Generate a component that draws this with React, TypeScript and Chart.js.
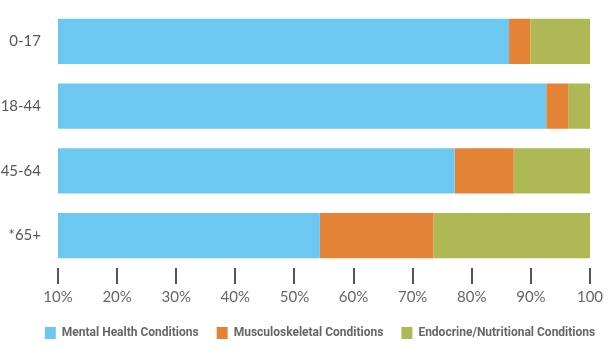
import React, { useEffect, useRef } from "react";
import { Chart, registerables } from "chart.js";

Chart.register(...registerables);

const categories = ["0-17", "18-44", "45-64", "*65+"];
const seriesNames = ["Mental Health Conditions", "Musculoskeletal Conditions", "Endocrine/Nutritional Conditions"];
const mental = [86.3, 92.6, 77.1, 54.3];
const musculoskeletal = [3.6, 3.7, 10.0, 19.2];
const endocrine = [10.1, 3.7, 12.9, 26.5];
const tickValues = [10, 20, 30, 40, 50, 60, 70, 80, 90, 100];
const tickLabels = ["10%", "20%", "30%", "40%", "50%", "60%", "70%", "80%", "90%", "100"];
const colors = ["#6DC8F1", "#E48236", "#AEB956"];

const shiftLegend = {
  id: "shiftLegend",
  afterLayout(chart: any) {
    if (chart.legend) {
      chart.legend.right += 50;
    }
  },
};

export default function App() {
  const ref = useRef<HTMLCanvasElement | null>(null);
  useEffect(() => {
    if (!ref.current) return;
    const font = "Lato, 'Open Sans', sans-serif";
    const chart = new Chart(ref.current, {
      type: "bar",
      plugins: [shiftLegend],
      data: {
        labels: categories,
        datasets: [mental, musculoskeletal, endocrine].map((d, i) => ({
          label: seriesNames[i],
          data: d,
          backgroundColor: colors[i],
          borderWidth: 0,
          barPercentage: 0.7,
          categoryPercentage: 1,
        })),
      },
      options: {
        indexAxis: "y",
        responsive: true,
        maintainAspectRatio: false,
        animation: false,
        layout: { padding: { left: 0, right: 25, top: 9, bottom: 1 } },
        plugins: {
          tooltip: { enabled: false },
          legend: {
            position: "bottom",
            labels: {
              boxWidth: 11,
              boxHeight: 12,
              padding: 18,
              color: "#666",
              font: { family: "Roboto, 'Liberation Sans', sans-serif", size: 12, weight: "bold" },
            },
          },
        },
        scales: {
          x: {
            type: "linear",
            stacked: true,
            min: 10,
            max: 100,
            afterBuildTicks: (scale: any) => {
              scale.ticks = tickValues.map((v) => ({ value: v }));
            },
            afterFit: (scale: any) => {
              scale.height -= 1;
              scale.paddingLeft = 0;
              scale.paddingRight = 0;
            },
            ticks: {
              color: "#666",
              font: { family: font, size: 15 },
              padding: 4,
              maxRotation: 0,
              callback: (v: any) => tickLabels[tickValues.indexOf(Number(v))],
            },
            grid: {
              drawOnChartArea: false,
              drawTicks: true,
              tickLength: 16,
              color: "#555",
              lineWidth: 2,
            },
            border: { display: false },
          },
          y: {
            stacked: true,
            afterFit: (scale: any) => {
              scale.width = 58;
              scale.paddingTop = 0;
              scale.paddingBottom = 0;
            },
            ticks: {
              color: "#555",
              font: { family: font, size: 15 },
              padding: 17,
            },
            grid: { display: false, drawTicks: false },
            border: { display: false },
          },
        },
      },
    });
    return () => chart.destroy();
  }, []);
  return (
    <div style={{ position: "fixed", left: 0, top: 0, width: 615, height: 350 }}>
      <canvas ref={ref} />
    </div>
  );
}
